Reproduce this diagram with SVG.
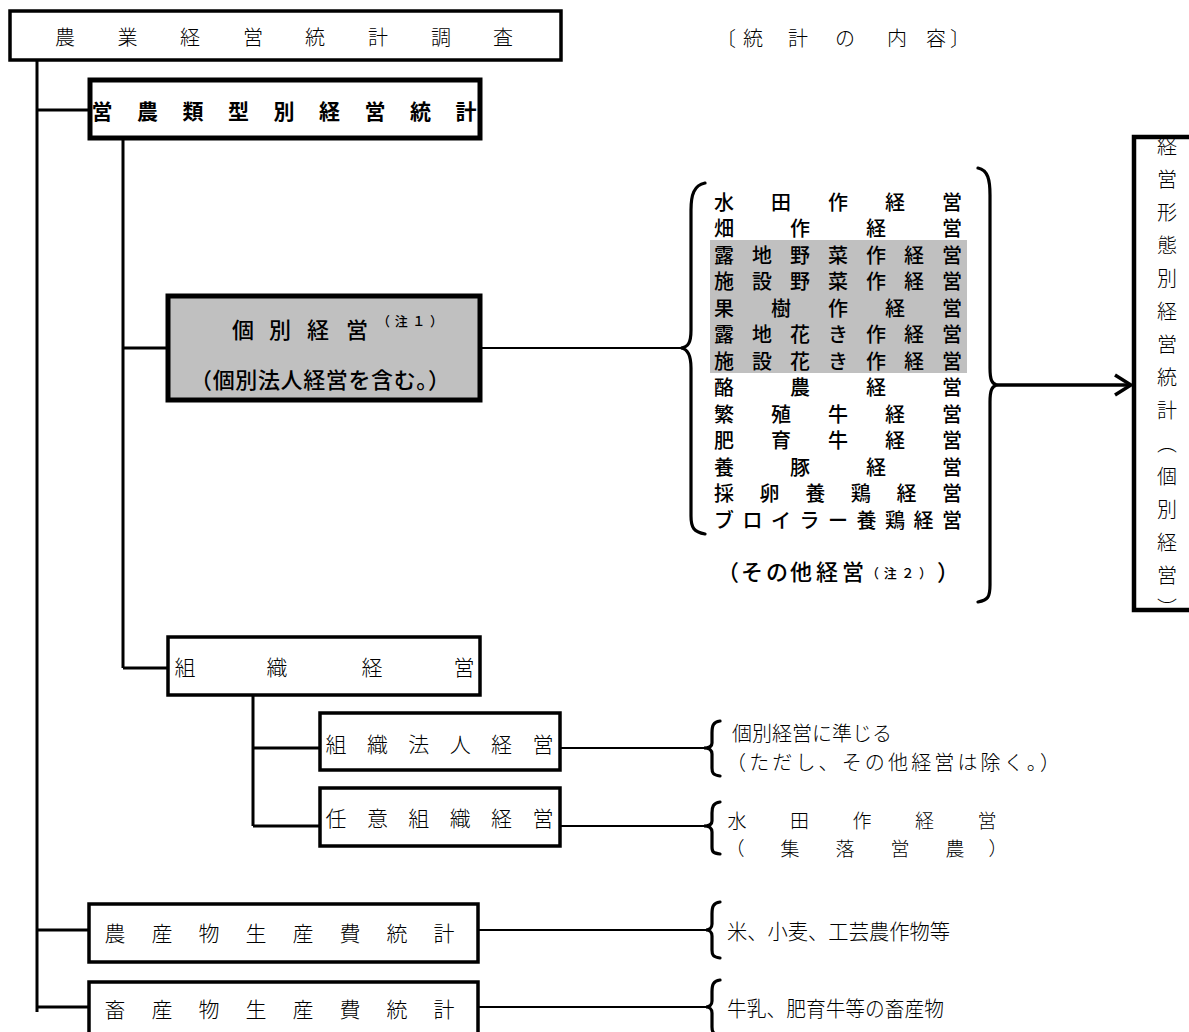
<svg xmlns="http://www.w3.org/2000/svg" width="1189" height="1032" viewBox="0 0 1189 1032">
<style>
text{font-family:"Noto Sans CJK JP","Noto Sans CJK SC",sans-serif;fill:#000;dominant-baseline:central}
.l{font-weight:300}
.m{font-weight:500}
.b{font-weight:bold}
.box{fill:#fff;stroke:#000}
.ln{stroke:#000;stroke-width:3;fill:none}
.th{stroke:#000;stroke-width:2.2;fill:none}
.br{stroke:#000;stroke-width:3.2;fill:none;stroke-linecap:round}
</style>
<defs>
<marker id="arr" viewBox="0 0 20 24" refX="18" refY="12" markerWidth="20" markerHeight="24" markerUnits="userSpaceOnUse" orient="auto">
<path d="M2,2 L18,12 L2,22" fill="none" stroke="#000" stroke-width="3.5"/>
</marker>
</defs>
<rect width="1189" height="1032" fill="#fff"/>

<g id="connectors">
<path class="ln" d="M37,60 V1012 M37,110 H90 M37,930 H89 M37,1007 H89"/>
<path class="ln" d="M123,138 V668 M123,348 H168 M123,668 H168"/>
<path class="ln" d="M253,695 V826 M253,748 H320 M253,826 H320"/>
<path class="th" d="M480,348 H681 M560,748 H704 M560,826 H704 M478,930 H706 M478,1007 H706"/>
<path class="br" d="M705,183 C694,185 691,195 691,210 L691,330 C691,343 688,347 681,348 C688,349 691,355 691,368 L691,516 C691,528 694,532 705,534"/>
<path class="br" d="M978,168 C988,170 990,180 990,195 L990,368 C990,380 992,384 997,385 C992,386 990,390 990,402 L990,585 C990,597 988,600 978,602"/>
<line x1="997" y1="385" x2="1131" y2="385" stroke="#000" stroke-width="3.5" marker-end="url(#arr)"/>
<path class="br" d="M720,721 C713,722 712,726 712,733 L712,743 C712,747 709,748 704,748 C709,748 712,750 712,754 L712,768 C712,773 713,775 720,776"/>
<path class="br" d="M720,802 C713,803 712,807 712,813 L712,821 C712,825 709,826 704,826 C709,826 712,828 712,832 L712,847 C712,852 713,853 720,854"/>
<path class="br" d="M720,902 C713,903 712,907 712,914 L712,924 C712,928 709,930 706,930 C709,930 712,932 712,936 L712,950 C712,955 713,957 720,958"/>
<path class="br" d="M720,980 C713,981 712,985 712,992 L712,1001 C712,1005 709,1007 706,1007 C709,1007 712,1009 712,1013 L712,1027 C712,1032 713,1034 720,1035"/>
</g>

<g id="n-root">
<rect class="box" x="10" y="11" width="551" height="49" stroke-width="3.5"/>
<text class="l" font-size="20" y="36" x="65 127.6 190 253 315 378 441 503" text-anchor="middle">農業経営統計調査</text>
</g>

<g id="n-header">
<text class="l" font-size="20" y="37" x="726 753 798 845 897 936 960" text-anchor="middle">〔統計の内容〕</text>
</g>

<g id="n-type">
<rect class="box" x="90" y="80" width="390" height="58" stroke-width="5"/>
<text class="b" font-size="21" y="110" x="102 147.5 193 238.5 284 329.5 375 420.5 466" text-anchor="middle">営農類型別経営統計</text>
</g>

<g id="n-indiv">
<rect x="168" y="296" width="312" height="104" fill="#c0c0c0" stroke="#000" stroke-width="5"/>
<text class="m" font-size="22" y="328" x="243 280 318 357" text-anchor="middle">個別経営</text>
<text class="m" font-size="13" y="320" x="377" textLength="66" lengthAdjust="spacing">（注１）</text>
<text class="m" font-size="22" y="378" x="190" textLength="260" lengthAdjust="spacing">（個別法人経営を含む。）</text>
</g>

<g id="n-list">
<rect x="710" y="240" width="257" height="133" fill="#c0c0c0"/>
<g class="m" font-size="20" text-anchor="middle">
<text y="201" x="724 781 838 895 952">水田作経営</text>
<text y="227.5" x="724 800 876 952">畑作経営</text>
<text y="254" x="724 762 800 838 876 914 952">露地野菜作経営</text>
<text y="280.5" x="724 762 800 838 876 914 952">施設野菜作経営</text>
<text y="307" x="724 781 838 895 952">果樹作経営</text>
<text y="333.5" x="724 762 800 838 876 914 952">露地花き作経営</text>
<text y="360" x="724 762 800 838 876 914 952">施設花き作経営</text>
<text y="386.5" x="724 800 876 952">酪農経営</text>
<text y="413" x="724 781 838 895 952">繁殖牛経営</text>
<text y="439.5" x="724 781 838 895 952">肥育牛経営</text>
<text y="466" x="724 800 876 952">養豚経営</text>
<text y="492.5" x="724 769.6 815.2 860.8 906.4 952">採卵養鶏経営</text>
<text y="519" x="724 752.5 781 809.5 838 866.5 895 923.5 952">ブロイラー養鶏経営</text>
</g>
<text class="m" font-size="22" y="570" x="728 752 777 801 827 853" text-anchor="middle">（その他経営</text>
<text class="m" font-size="13" y="572" x="866" textLength="66" lengthAdjust="spacing">（注２）</text>
<text class="m" font-size="22" y="570" x="948" text-anchor="middle">）</text>
</g>

<g id="n-result">
<rect class="box" x="1134" y="137" width="70" height="473" stroke-width="4.5"/>
<text class="l" font-size="20" x="1167" y="136" style="writing-mode:vertical-rl" letter-spacing="13">経営形態別経営統計（個別経営）</text>
</g>

<g id="n-org">
<rect class="box" x="168" y="637" width="312" height="58" stroke-width="3.5"/>
<text class="l" font-size="21" y="666" x="185 277 372 464" text-anchor="middle">組織経営</text>
</g>

<g id="n-orgcorp">
<rect class="box" x="320" y="713" width="240" height="57" stroke-width="3.5"/>
<text class="l" font-size="21" y="743" x="336 377.4 418.8 460.2 501.6 543" text-anchor="middle">組織法人経営</text>
<text class="l" font-size="20" y="732" x="732">個別経営に準じる</text>
<text class="l" font-size="20" y="761" x="726" textLength="334" lengthAdjust="spacing">（ただし、その他経営は除く。）</text>
</g>

<g id="n-orgvol">
<rect class="box" x="320" y="788" width="240" height="58" stroke-width="3.5"/>
<text class="l" font-size="21" y="817" x="336 377.4 418.8 460.2 501.6 543" text-anchor="middle">任意組織経営</text>
<text class="l" font-size="19" y="819" x="737 799.5 862 924.5 987" text-anchor="middle">水田作経営</text>
<text class="l" font-size="19" y="847" x="735 790 845 900 955 998" text-anchor="middle">（集落営農）</text>
</g>

<g id="n-crop">
<rect class="box" x="89" y="904" width="389" height="58" stroke-width="3.5"/>
<text class="l" font-size="21" y="932" x="115 162 209 256 303 350 397 444" text-anchor="middle">農産物生産費統計</text>
<text class="l" font-size="21" y="930" x="727" textLength="223" lengthAdjust="spacingAndGlyphs">米、小麦、工芸農作物等</text>
</g>

<g id="n-live">
<rect class="box" x="89" y="982" width="389" height="60" stroke-width="3.5"/>
<text class="l" font-size="21" y="1008" x="115 162 209 256 303 350 397 444" text-anchor="middle">畜産物生産費統計</text>
<text class="l" font-size="21" y="1007" x="727" textLength="217" lengthAdjust="spacingAndGlyphs">牛乳、肥育牛等の畜産物</text>
</g>
</svg>
